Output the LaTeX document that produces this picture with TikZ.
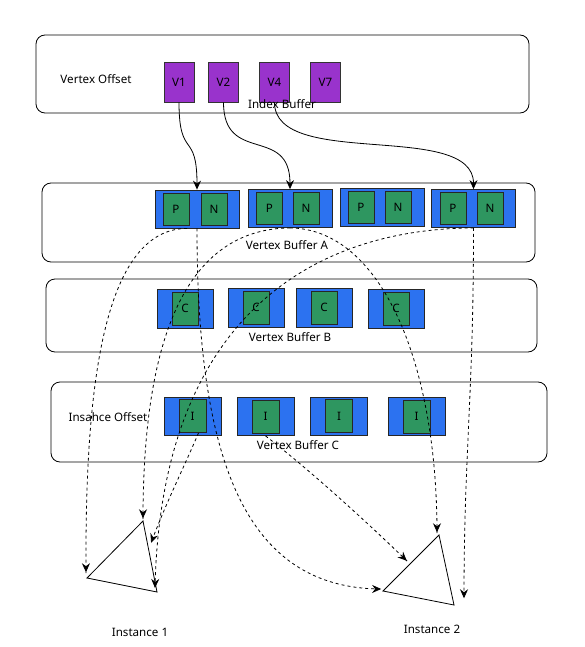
\documentclass[tikz,border=0pt]{standalone}
\usepackage{fontspec}
\setmainfont{Noto Sans}
\usetikzlibrary{arrows.meta,decorations.markings}
\definecolor{vpurple}{RGB}{153,51,204}
\definecolor{cblue}{RGB}{44,114,240}
\definecolor{egreen}{RGB}{46,150,96}
\begin{document}
\begin{tikzpicture}[x=1pt,y=-1pt,font=\fontsize{11.6}{13}\selectfont,
  panel/.style={draw, rounded corners=9pt, line width=0.8pt, inner sep=0pt},
  vbox/.style={draw=black!80, fill=vpurple, minimum width=30pt, minimum height=40pt, inner sep=0pt, line width=0.7pt},
  cont/.style={draw=black!85, fill=cblue, inner sep=0pt, line width=0.8pt},
  gbox/.style={draw=black!85, fill=egreen, inner sep=0pt, minimum width=26pt, minimum height=32pt, line width=0.8pt},
  lbl/.style={inner sep=0pt},
  link/.style={-{Stealth[length=9pt,width=8pt,inset=3pt]}, line width=0.8pt},
  dlink/.style={line width=0.8pt, dash pattern=on 3pt off 3pt,
    postaction={decorate, decoration={markings,
      mark=at position 0.998 with {\arrow[solid]{Stealth[length=9pt,width=8pt,inset=3pt]}}}}}]
\useasboundingbox (0,0) rectangle (584,647);

% panels
\node[panel, minimum width=493pt, minimum height=78pt] (ib) at (282.5,74) {};
\node[panel, minimum width=493pt, minimum height=79pt] (pa) at (288.5,222.5) {};
\node[panel, minimum width=491pt, minimum height=73pt] (pb) at (291.5,315.5) {};
\node[panel, minimum width=496pt, minimum height=80pt] (pc) at (299,422) {};

% labels
\node[lbl] (lvo) at (96,79) {Vertex Offset};
\node[lbl] (lio) at (108,417) {Insahce Offset};
\node[lbl] (lva) at (287,245) {Vertex Buffer A};
\node[lbl] (lvb) at (290,337) {Vertex Buffer B};
\node[lbl] (lvc) at (298,445) {Vertex Buffer C};
\node[lbl] (li1) at (140,632) {Instance 1};
\node[lbl] (li2) at (432,629) {Instance 2};

% index buffer
\node[vbox] (v1) at (179,82) {V1};
\node[vbox] (v2) at (223.5,82) {V2};
\node[vbox] (v4) at (274.5,82) {V4};
\node[vbox] (v7) at (325.5,82) {V7};
\node[lbl] (lib) at (282,104) {Index Buffer};

% vertex buffer A
\node[cont, minimum width=84pt, minimum height=38pt] (a1) at (197,209) {};
\node[cont, minimum width=84pt, minimum height=38pt] (a2) at (290,208.5) {};
\node[cont, minimum width=84pt, minimum height=38pt] (a3) at (382,207.5) {};
\node[cont, minimum width=84pt, minimum height=38pt] (a4) at (473.5,208.5) {};
\node[gbox] (p1) at (176,209) {P};
\node[gbox] (n1) at (214,209) {N};
\node[gbox] (p2) at (269.5,208) {P};
\node[gbox] (n2) at (306,208) {N};
\node[gbox] (p3) at (361,207) {P};
\node[gbox] (n3) at (398,207) {N};
\node[gbox] (p4) at (453,208) {P};
\node[gbox] (n4) at (490,208) {N};

% vertex buffer B
\node[cont, minimum width=56pt, minimum height=39pt] (b1) at (185,308.5) {};
\node[cont, minimum width=56pt, minimum height=39pt] (b2) at (256,307.5) {};
\node[cont, minimum width=56pt, minimum height=39pt] (b3) at (324,307.5) {};
\node[cont, minimum width=56pt, minimum height=39pt] (b4) at (396,308.5) {};
\node[gbox, minimum height=33pt] (cc1) at (b1) {C};
\node[gbox, minimum height=33pt] (cc2) at (b2) {C};
\node[gbox, minimum height=33pt] (cc3) at (b3) {C};
\node[gbox, minimum height=33pt] (cc4) at (b4) {C};

% vertex buffer C
\node[cont, minimum width=57pt, minimum height=38pt] (c1) at (192.5,416) {};
\node[cont, minimum width=57pt, minimum height=38pt] (c2) at (265.5,416.5) {};
\node[cont, minimum width=57pt, minimum height=38pt] (c3) at (339,416) {};
\node[cont, minimum width=57pt, minimum height=38pt] (c4) at (416.5,416.5) {};
\node[gbox, minimum width=27pt, minimum height=33pt] (i1) at (c1) {I};
\node[gbox, minimum width=27pt, minimum height=33pt] (i2) at (c2) {I};
\node[gbox, minimum width=27pt, minimum height=33pt] (i3) at (c3) {I};
\node[gbox, minimum width=27pt, minimum height=33pt] (i4) at (c4) {I};

% triangles
\coordinate (t1a) at (143,521);
\coordinate (t1b) at (87,578);
\coordinate (t1c) at (157,592);
\coordinate (t2a) at (439,535);
\coordinate (t2b) at (383,591);
\coordinate (t2c) at (454,605);
\draw[line width=0.8pt] (t1a) -- (t1b) -- (t1c) -- cycle;
\draw[line width=0.8pt] (t2a) -- (t2b) -- (t2c) -- cycle;

% arrow end points
\coordinate (e1a) at (143,519);
\coordinate (e1b) at (86,573);
\coordinate (e1c) at (155,589);
\coordinate (e1m) at (151,543);
\coordinate (e2a) at (437,533);
\coordinate (e2b) at (382,589);
\coordinate (e2m) at (407,561);
\coordinate (e2r) at (464,599);

% index arrows
\draw[link] (v1.south) .. controls (179,160) and (197,130) .. (a1.north);
\draw[link] (v2.south) .. controls (223.5,165) and (290,125) .. (a2.north);
\draw[link] (v4.south) .. controls (274.5,170) and (473.5,120) .. (a4.north);

% dashed arrows
\draw[dlink] ([xshift=-10pt]a1.south) .. controls (100,229) and (85,400) .. (e1b);
\draw[dlink] (a1.south) .. controls (197,460) and (245,589) .. (e2b);
\draw[dlink] (a2.south) .. controls (195,229) and (143,320) .. (e1a);
\draw[dlink] (a2.south) .. controls (380,229) and (437,360) .. (e2a);
\draw[dlink] (a4.south) .. controls (300,229) and (160,330) .. (e1c);
\draw[dlink] (a4.south) .. controls (473.5,400) and (464,450) .. (e2r);
\draw[dlink] ([xshift=6pt]i1.south) .. controls (185,465) and (165,505) .. (e1m);
\draw[dlink] (c2.south) .. controls (310,470) and (370,525) .. (e2m);
\end{tikzpicture}
\end{document}
